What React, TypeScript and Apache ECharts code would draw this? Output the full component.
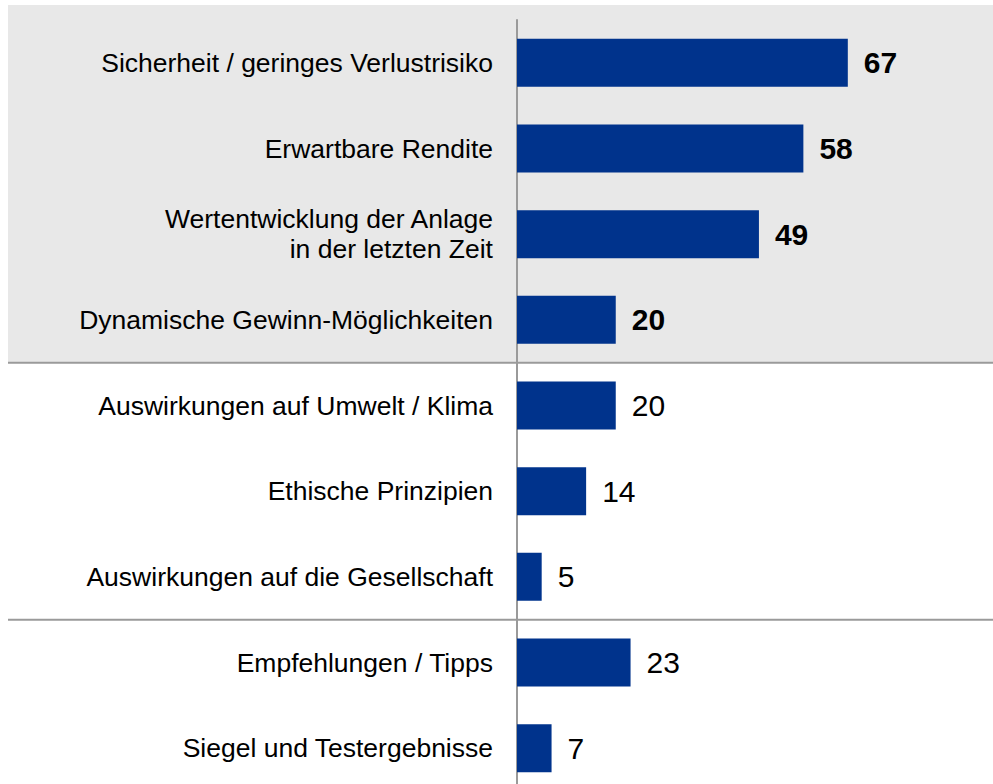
import React, { useEffect, useRef } from "react";
import * as echarts from "echarts";

const categories = [
  "Sicherheit / geringes Verlustrisiko",
  "Erwartbare Rendite",
  "Wertentwicklung der Anlage\nin der letzten Zeit",
  "Dynamische Gewinn-Möglichkeiten",
  "Auswirkungen auf Umwelt / Klima",
  "Ethische Prinzipien",
  "Auswirkungen auf die Gesellschaft",
  "Empfehlungen / Tipps",
  "Siegel und Testergebnisse",
];
const values = [67, 58, 49, 20, 20, 14, 5, 23, 7];
// number of categories in each block (first block highlighted)
const groupSizes = [4, 3, 2];

const FONT = "Arial, 'Liberation Sans', Helvetica, sans-serif";
const BAR_COLOR = "#00338C";

export default function App() {
  const ref = useRef<HTMLDivElement>(null);
  useEffect(() => {
    if (!ref.current) return;
    const chart = echarts.init(ref.current, null, { renderer: "svg" });
    const option: any = {
      animation: false,
      grid: {
        left: 517,
        top: 20,
        width: 395,
        height: 771,
        containLabel: false,
        outerBoundsMode: "none",
      },
      xAxis: { type: "value", min: 0, max: 80, show: false },
      yAxis: {
        type: "category",
        inverse: true,
        data: categories,
        axisLine: { show: true, lineStyle: { color: "#9a9a9a", width: 2 } },
        axisTick: { show: false },
        splitLine: { show: false },
        axisLabel: {
          color: "#000",
          fontSize: 26.5,
          fontFamily: FONT,
          margin: 24,
          lineHeight: 30,
        },
      },
      series: [
        {
          type: "bar",
          barWidth: 48,
          itemStyle: { color: BAR_COLOR },
          label: {
            show: true,
            position: "right",
            distance: 16,
            color: "#000",
            fontSize: 30,
            fontFamily: FONT,
          },
          data: values.map((v, i) => ({
            value: v,
            label: { fontWeight: i < groupSizes[0] ? "bold" : "normal" },
          })),
          z: 5,
        },
      ],
    };
    chart.setOption(option);

    const center = (i: number) => chart.convertToPixel({ yAxisIndex: 0 }, i) as number;
    const b1 = (center(groupSizes[0] - 1) + center(groupSizes[0])) / 2;
    const k2 = groupSizes[0] + groupSizes[1];
    const b2 = (center(k2 - 1) + center(k2)) / 2;

    chart.setOption({
      graphic: [
        {
          type: "rect",
          z: -10,
          shape: { x: 8, y: 5, width: 985, height: b1 - 5 },
          style: { fill: "#e8e8e8" },
        },
        {
          type: "line",
          z: 10,
          shape: { x1: 8, y1: b1, x2: 993, y2: b1 },
          style: { stroke: "#9a9a9a", lineWidth: 2 },
        },
        {
          type: "line",
          z: 10,
          shape: { x1: 8, y1: b2, x2: 993, y2: b2 },
          style: { stroke: "#9a9a9a", lineWidth: 2 },
        },
      ],
    });

    return () => chart.dispose();
  }, []);
  return (
    <div
      ref={ref}
      style={{ position: "absolute", left: 0, top: 0, width: 993, height: 784 }}
    />
  );
}
